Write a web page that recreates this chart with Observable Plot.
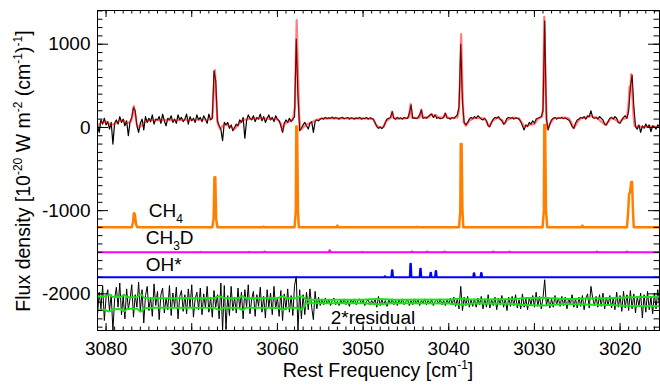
<!DOCTYPE html>
<html><head><meta charset="utf-8">
<script src="https://cdn.jsdelivr.net/npm/d3@7"></script>
<script src="https://cdn.jsdelivr.net/npm/@observablehq/plot@0.6"></script>
<style>
html,body{margin:0;padding:0;background:#fff;}
#chart{width:660px;height:386px;}
</style></head><body><div id="chart"></div>
<script>
// ---- observed spectrum (sampled every 0.2 cm^-1 starting at 3081) ----
const obsStart = 3081, obsStep = 0.2;
const obsValues = [
 20,-60,90,40,110,30,
 70,-20,60,-200,50,
 90,40,130,60,100,
 20,80,-100,70,120,
 240,200,20,-60,50,
 100,-30,130,60,110,
 70,150,40,100,90,
 130,50,160,80,20,
 110,90,140,60,100,
 50,150,90,120,70,
 100,160,40,130,80,
 110,60,150,90,120,
 70,140,100,50,160,
 90,110,680,560,80,
 20,-20,-160,60,30,
 60,-10,30,-40,0,
 40,20,90,60,120,
 -130,80,150,110,90,
 140,70,120,100,160,
 80,130,60,110,150,
 90,120,70,140,100,
 80,20,-60,50,90,
 60,110,70,100,130,
 1060,380,-40,-10,30,
 60,20,-20,50,70,
 -60,70,90,80,100,
 110,100,120,105,115,
 110,125,105,120,110,
 100,115,120,105,110,
 120,100,115,110,100,
 115,105,120,100,110,
 105,120,100,115,110,
 95,60,10,-10,5,
 -15,10,60,100,110,
 120,190,110,100,120,
 105,115,100,120,110,
 110,170,270,110,115,
 105,120,150,210,110,
 120,110,130,150,160,
 120,150,110,120,105,
 110,120,170,115,110,
 100,120,110,130,150,
 250,1000,300,60,30,
 60,100,120,105,130,
 110,140,120,100,90,
 110,80,20,10,60,
 100,120,110,130,100,
 80,40,60,110,120,
 110,120,100,115,110,
 100,70,20,-30,30,
 10,60,40,80,50,
 100,110,120,130,200,
 1280,100,-30,40,90,
 110,120,100,115,110,
 120,105,115,100,90,
 60,10,-10,50,90,
 100,120,110,130,100,
 140,130,200,120,110,
 120,100,130,110,90,
 40,30,70,110,120,
 100,130,110,60,50,
 90,120,140,110,200,
 480,630,250,10,-20,
 30,-60,20,-10,40,
 0,30,-50,20,10,
 -20,30,10
];

// ---- model fit (red) ----
const modelPts = [
 [3081.0,20],[3080.6,60],[3080.0,70],[3079.5,30],[3079.0,40],[3078.5,75],[3078.0,80],[3077.5,50],
 [3077.1,70],[3076.9,150],[3076.75,255],[3076.6,160],[3076.4,30],[3076.1,0],[3075.6,60],[3075.0,85],
 [3074.0,90],[3072.0,88],[3070.0,92],[3068.0,95],[3067.6,110],[3067.45,400],[3067.3,690],[3067.15,380],
 [3067.0,60],[3066.7,-20],[3066.3,30],[3066.0,40],[3065.5,10],[3065.0,-20],[3064.6,30],[3064.0,90],
 [3063.0,105],[3062.0,110],[3061.0,105],[3060.0,95],[3059.6,50],[3059.4,-40],[3059.2,40],[3058.6,75],
 [3058.2,90],[3057.95,250],[3057.85,800],[3057.75,1290],[3057.6,650],[3057.45,120],[3057.3,-30],[3057.0,0],
 [3056.5,40],[3056.0,60],[3055.5,90],[3055.0,105],[3054.0,112],[3052.0,108],[3050.0,110],[3048.8,100],
 [3048.5,30],[3048.1,0],[3047.6,5],[3047.3,80],[3046.9,105],[3046.75,120],[3046.6,190],[3046.45,115],
 [3046.2,105],[3045.0,110],[3044.65,120],[3044.45,280],[3044.3,120],[3043.5,110],[3043.35,130],[3043.2,215],
 [3043.05,120],[3042.4,120],[3042.0,160],[3041.7,130],[3041.5,150],[3041.2,120],[3040.6,120],[3040.4,170],
 [3040.2,120],[3039.5,110],[3039.0,120],[3038.8,200],[3038.65,700],[3038.55,1120],[3038.4,450],[3038.25,60],
 [3038.0,20],[3037.6,80],[3037.0,115],[3036.0,110],[3035.7,90],[3035.3,10],[3034.9,80],[3034.3,118],
 [3033.8,90],[3033.5,40],[3033.2,90],[3032.5,118],[3031.8,110],[3031.5,60],[3031.2,10],[3030.6,30],
 [3030.0,40],[3029.6,100],[3029.1,130],[3029.0,220],[3028.85,1330],[3028.7,500],[3028.55,60],[3028.45,-20],
 [3028.1,60],[3027.7,110],[3026.5,118],[3026.0,110],[3025.7,60],[3025.4,-10],[3025.0,60],[3024.6,110],
 [3023.8,120],[3023.4,140],[3023.0,120],[3022.7,118],[3022.2,70],[3021.7,30],[3021.3,80],[3021.0,118],
 [3020.5,90],[3020.1,58],[3019.7,100],[3019.2,115],[3019.0,300],[3018.9,490],[3018.8,450],[3018.7,640],
 [3018.55,350],[3018.4,100],[3018.3,18],[3017.5,5],[3016.5,10],[3015.4,5]
];

// ---- components (offset baselines) ----
const ch4Offset = -1200, ch3dOffset = -1500, ohOffset = -1800;
const ch4Pts = [
 [3081,0],[3077.0,0],[3076.85,60],[3076.75,170],[3076.65,160],[3076.5,40],[3076.35,0],
 [3067.6,0],[3067.45,100],[3067.35,600],[3067.25,600],[3067.15,100],[3067.0,0],
 [3061.7,0],[3061.6,8],[3061.5,0],
 [3058.0,0],[3057.85,200],[3057.8,1210],[3057.7,1210],[3057.6,200],[3057.5,0],
 [3053.1,0],[3053.0,20],[3052.9,0],
 [3043.8,0],[3043.7,6],[3043.6,0],
 [3038.8,0],[3038.65,200],[3038.6,1000],[3038.5,1000],[3038.4,200],[3038.3,0],
 [3029.05,0],[3028.9,200],[3028.85,1230],[3028.75,1230],[3028.65,200],[3028.5,0],
 [3024.5,0],[3024.4,20],[3024.3,0],
 [3019.2,0],[3019.05,200],[3018.95,400],[3018.85,420],[3018.8,460],[3018.7,545],[3018.6,545],[3018.5,200],[3018.4,0],
 [3015.4,0]
];
const ch3dPts = [
 [3081,0],[3069.1,0],[3069.0,6],[3068.9,0],[3063.4,0],[3063.3,6],[3063.2,0],
 [3061.6,0],[3061.5,8],[3061.4,0],[3054.0,0],[3053.9,25],[3053.8,0],
 [3050.2,0],[3050.1,6],[3050.0,0],[3044.4,0],[3044.3,10],[3044.2,0],
 [3042.6,0],[3042.5,8],[3042.4,0],[3040.6,0],[3040.5,8],[3040.4,0],
 [3034.9,0],[3034.8,10],[3034.7,0],[3033.0,0],[3032.9,8],[3032.8,0],
 [3022.8,0],[3022.7,8],[3022.6,0],[3019.3,0],[3019.2,10],[3019.1,0],[3015.4,0]
];
const ohPts = [
 [3081,0],[3047.55,0],[3047.45,12],[3047.35,0],
 [3046.7,0],[3046.63,83],[3046.57,83],[3046.5,0],
 [3044.55,0],[3044.48,163],[3044.42,163],[3044.35,0],
 [3043.4,0],[3043.33,103],[3043.27,103],[3043.2,0],
 [3042.2,0],[3042.13,55],[3042.07,55],[3042.0,0],
 [3041.6,0],[3041.53,75],[3041.47,75],[3041.4,0],
 [3037.15,0],[3037.08,48],[3037.02,48],[3036.95,0],
 [3036.3,0],[3036.23,50],[3036.17,50],[3036.1,0],
 [3015.4,0]
];

// ---- 2*residual (offset) on the same grid ----
const residOffset = -2100;
const residValues = [
 -150,120,-80,200,-220,60,150,-100,90,-340,40,
 180,-60,230,-150,70,-200,160,-90,40,210,
 -180,90,-60,240,-120,150,-250,80,190,-100,
 60,-170,220,-40,130,-210,90,170,-130,50,
 -90,200,-160,110,-60,180,-200,70,140,-110,
 90,-140,160,-60,210,-180,40,120,-90,170,
 -150,100,-70,190,-120,60,-180,140,-60,90,
 -200,230,-340,200,-320,80,-160,190,-100,60,
 -130,170,-80,120,-200,150,-60,210,-140,40,
 130,-170,90,-50,180,-120,70,-190,150,-60,
 110,-150,190,-80,60,-170,140,-220,100,-90,
 160,-120,80,-160,200,310,-340,150,-200,90,
 -150,120,-90,160,-60,-210,130,-80,60,-40,
 40,-30,50,-20,30,-40,20,50,-30,10,
 -40,30,-20,40,-30,20,-50,30,-10,40,
 -30,20,40,-20,30,-40,10,30,-30,20,
 -20,40,-60,70,-40,30,-30,20,-50,30,
 -20,40,-30,20,-40,30,-20,40,-30,10,
 30,-40,20,-30,40,-20,30,-40,20,-10,
 40,-30,20,-20,30,-40,10,30,-20,40,
 -30,20,-40,30,-20,50,-30,60,-50,40,
 -80,190,-100,60,-40,70,-60,30,-50,40,
 -60,50,-30,70,-80,40,-60,90,-70,30,
 -40,60,-90,50,-30,80,-60,40,-100,60,
 -50,70,-40,90,-70,30,-80,100,-60,40,
 -90,60,-30,80,-60,120,-50,70,-80,50,
 270,-40,60,-70,40,-60,80,-30,50,-50,
 70,-40,60,-80,50,-30,90,-60,40,-70,
 60,-50,80,-90,40,100,-70,190,50,-40,
 70,-60,90,-50,110,-80,60,-40,80,-70,
 50,-90,120,-60,80,-110,130,-70,90,-100,
 140,-80,100,-130,70,-50,110,-190,90,-120,
 130,-90,60,-140,110,-80,150,-60
];
const envUpper = [
 [3081,-2030],[3080.2,-2030],[3079.65,-2008],[3079.2,-2035],[3078.3,-2038],[3077.9,-2010],[3077.5,-2040],
 [3076.4,-2040],[3075.95,-2008],[3075.5,-2048],[3074.5,-2052],[3067.4,-2052],[3066.8,-2028],[3066.2,-2052],
 [3064.6,-2052],[3064.1,-2028],[3063.6,-2052],[3060.0,-2052],[3059.4,-2028],[3058.9,-2052],[3057.8,-2052],
 [3057.3,-2028],[3056.9,-2048],[3056.6,-2070],[3050,-2070],[3048.3,-2060],[3046.5,-2070],[3040,-2068],
 [3038.6,-2055],[3037.2,-2068],[3033,-2065],[3031,-2050],[3029,-2045],[3026.5,-2062],[3024,-2055],
 [3021,-2050],[3019,-2040],[3015.4,-2035]
];
const envLower = [
 [3081,-2190],[3080.2,-2190],[3079.65,-2212],[3079.2,-2185],[3078.3,-2182],[3077.9,-2210],[3077.5,-2180],
 [3076.4,-2180],[3075.95,-2212],[3075.5,-2172],[3074.5,-2168],[3067.4,-2168],[3066.8,-2192],[3066.2,-2168],
 [3064.6,-2168],[3064.1,-2192],[3063.6,-2168],[3060.0,-2168],[3059.4,-2192],[3058.9,-2168],[3057.8,-2168],
 [3057.3,-2192],[3056.9,-2160],[3056.6,-2114],[3050,-2114],[3048.3,-2124],[3046.5,-2114],[3040,-2116],
 [3038.6,-2129],[3037.2,-2116],[3033,-2119],[3031,-2134],[3029,-2139],[3026.5,-2122],[3024,-2129],
 [3021,-2134],[3019,-2144],[3015.4,-2149]
];

// ---- ticks & labels ----
const xMajorTicks = [3020, 3030, 3040, 3050, 3060, 3070, 3080];
const xMinorTicks = d3.range(3016, 3081, 1);
const yMajorTicks = [-2000, -1000, 0, 1000];
const yMinorTicks = d3.range(-2400, 1401, 100);
const seriesLabels = [
 {f: 3075.02, v: -1009, t: "CH4"},
 {f: 3075.37, v: -1328, t: "CH3D"},
 {f: 3075.37, v: -1657, t: "OH*"},
 {f: 3053.78, v: -2288, t: "2*residual"}
];

const obs = obsValues.map((v, i) => ({f: obsStart - i * obsStep, v}));
const resid = residValues.map((v, i) => ({f: obsStart - i * obsStep, v: residOffset + v}));
const rows = (pts, off = 0) => pts.map(([f, v]) => ({f, v: off + v}));

const PW = 562, PH = 320;
const chart = Plot.plot({
  width: 660, height: 386,
  marginLeft: 97, marginRight: 1, marginTop: 10, marginBottom: 56,
  x: {domain: [3081, 3015.4], label: null},
  y: {domain: [-2440, 1405], label: null},
  style: {fontFamily: "'Liberation Sans', Arial, Helvetica, sans-serif", fontSize: "19px", color: "black", background: "white"},
  marks: [
    Plot.line(rows(ch4Pts, ch4Offset), {x: "f", y: "v", stroke: "#ff7f00", strokeWidth: 2.5, clip: true}),
    Plot.line(rows(ch3dPts, ch3dOffset), {x: "f", y: "v", stroke: "#ff00ff", strokeWidth: 2, clip: true}),
    Plot.line(rows(ohPts, ohOffset), {x: "f", y: "v", stroke: "#0000ff", strokeWidth: 2, clip: true}),
    Plot.line(resid, {x: "f", y: "v", stroke: "black", strokeWidth: 1, clip: true}),
    Plot.line(rows(envUpper), {x: "f", y: "v", stroke: "#14e614", strokeWidth: 2, curve: "monotone-x", clip: true}),
    Plot.line(rows(envLower), {x: "f", y: "v", stroke: "#14e614", strokeWidth: 2, curve: "monotone-x", clip: true}),
    Plot.line(obs, {x: "f", y: "v", stroke: "black", strokeWidth: 1.2, clip: true}),
    Plot.line(rows(modelPts), {x: "f", y: "v", stroke: "red", strokeOpacity: 0.5, strokeWidth: 2.2, clip: true}),
    Plot.text(seriesLabels, {x: "f", y: "v", text: "t", textAnchor: "start", lineAnchor: "middle", fontSize: 19, fill: "black"}),
    // inward ticks on all four sides
    Plot.tickX(xMinorTicks, {x: d => d, insetTop: PH - 3.5, stroke: "black"}),
    Plot.tickX(xMinorTicks, {x: d => d, insetBottom: PH - 3.5, stroke: "black"}),
    Plot.tickX(xMajorTicks, {x: d => d, insetTop: PH - 7, stroke: "black"}),
    Plot.tickX(xMajorTicks, {x: d => d, insetBottom: PH - 7, stroke: "black"}),
    Plot.tickY(yMinorTicks, {y: d => d, insetRight: PW - 5.5, stroke: "black"}),
    Plot.tickY(yMinorTicks, {y: d => d, insetLeft: PW - 5.5, stroke: "black"}),
    Plot.tickY(yMajorTicks, {y: d => d, insetRight: PW - 11, stroke: "black"}),
    Plot.tickY(yMajorTicks, {y: d => d, insetLeft: PW - 11, stroke: "black"}),
    Plot.axisX(xMajorTicks, {anchor: "bottom", tickSize: 0, tickPadding: 11, tickFormat: d => String(d), label: null, fontSize: 19}),
    Plot.axisY(yMajorTicks, {anchor: "left", tickSize: 0, tickPadding: 7, tickFormat: d => String(d), label: null, fontSize: 19}),
    Plot.frame({stroke: "black", strokeWidth: 1})
  ]
});
document.getElementById("chart").appendChild(chart);

const svg = d3.select(chart);
// subscripts in component labels
svg.selectAll("text").each(function () {
  const t = this.textContent;
  const s = d3.select(this);
  if (t === "CH4") {
    this.textContent = "";
    s.append("tspan").text("CH");
    s.append("tspan").attr("dy", 6).attr("font-size", 12).text("4");
  } else if (t === "CH3D") {
    this.textContent = "";
    s.append("tspan").text("CH");
    s.append("tspan").attr("dy", 6).attr("font-size", 12).text("3");
    s.append("tspan").attr("dy", -6).text("D");
  }
});
// axis titles with superscripts: each part is [text, isSuperscript]
function titled(g, parts) {
  let shift = 0;
  parts.forEach(([txt, sup]) => {
    const ts = g.append("tspan").text(txt);
    if (sup) {
      ts.attr("dy", -8 - shift).attr("font-size", 12);
      shift = -8;
    } else {
      if (shift) ts.attr("dy", -shift);
      shift = 0;
    }
  });
}
const font = "'Liberation Sans', Arial, Helvetica, sans-serif";
const xt = svg.append("text").attr("x", 378).attr("y", 377).attr("text-anchor", "middle")
  .attr("font-family", font).attr("font-size", 19.5).attr("fill", "black");
titled(xt, [["Rest Frequency [cm"], ["-1", true], ["]"]]);
const yt = svg.append("text").attr("transform", "translate(30,171) rotate(-90)").attr("text-anchor", "middle")
  .attr("font-family", font).attr("font-size", 19.5).attr("fill", "black");
titled(yt, [["Flux density [10"], ["-20", true], [" W m"], ["-2", true], [" (cm"], ["-1", true], [")"], ["-1", true], ["]"]]);
</script></body></html>
